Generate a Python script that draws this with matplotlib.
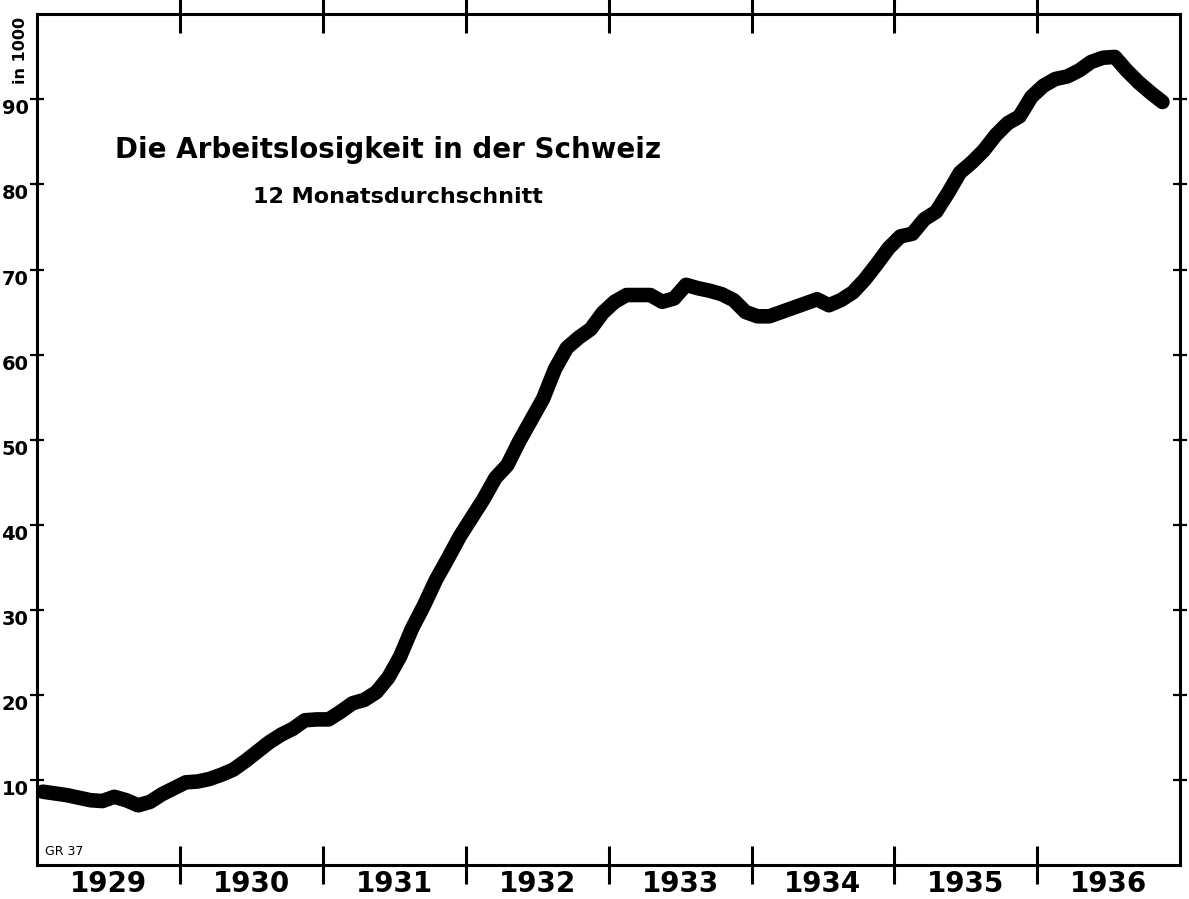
import numpy as np
import matplotlib
matplotlib.use("Agg")
import matplotlib.pyplot as plt

# 12-month average of unemployed (in 1000), monthly from Jan 1929
unemployed = [
    8.6, 8.4, 8.2, 7.9, 7.6, 7.5, 8.0, 7.6, 7.0, 7.4, 8.3, 9.0,
    9.7, 9.8, 10.1, 10.6, 11.2, 12.2, 13.3, 14.4, 15.3, 16.0, 17.0, 17.1,
    17.1, 18.0, 19.0, 19.4, 20.3, 22.0, 24.5, 27.8, 30.5, 33.5, 36.0, 38.6,
    40.8, 43.0, 45.5, 47.0, 49.8, 52.3, 54.8, 58.3, 60.8, 62.0, 63.0, 64.9,
    66.2, 67.0, 67.0, 67.0, 66.2, 66.6, 68.2, 67.8, 67.5, 67.1, 66.4, 65.0,
    64.5, 64.5, 65.0, 65.5, 66.0, 66.5, 65.8, 66.4, 67.3, 68.8, 70.6, 72.5,
    73.9, 74.2, 75.9, 76.8, 79.0, 81.4, 82.6, 84.0, 85.8, 87.2, 88.0, 90.3,
    91.6, 92.4, 92.7, 93.4, 94.4, 94.9, 95.0, 93.4, 92.0, 90.8, 89.7,
]
years = [1929, 1930, 1931, 1932, 1933, 1934, 1935, 1936]
y_ticks = [10, 20, 30, 40, 50, 60, 70, 80, 90]

months = np.arange(len(unemployed))
t = 1929 + (months + 0.5) / 12

fig = plt.figure(figsize=(11.89, 8.99), dpi=100)
ax = fig.add_axes([0.031, 0.038, 0.9617, 0.946])

ax.plot(t, unemployed, color="black", lw=10.5, solid_capstyle="round", solid_joinstyle="round")

ax.set_xlim(1929, 1937)
ax.set_ylim(0, 100)

for s in ax.spines.values():
    s.set_linewidth(2.2)

# year boundaries as major ticks, labels at mid-year
ax.set_xticks(np.arange(1930, 1937))
ax.set_xticklabels([])
ax.set_xticks([y + 0.5 for y in years], minor=True)
ax.set_xticklabels([str(y) for y in years], minor=True,
                   fontsize=20, fontweight="bold")
ax.tick_params(axis="x", which="major", direction="inout", length=28, width=2.2,
               top=True)
ax.tick_params(axis="x", which="minor", length=0, pad=4)

ax.set_yticks(y_ticks)
ax.set_yticklabels([str(v) for v in y_ticks], fontsize=14, fontweight="bold",
                   va="top")
ax.tick_params(axis="y", direction="inout", length=10, width=1.6, right=True, pad=1)

ax.text(-0.014, 0.997, "in 1000", transform=ax.transAxes, rotation=90,
        ha="center", va="top", fontsize=11.5, fontweight="bold")

ax.text(0.068, 0.84, "Die Arbeitslosigkeit in der Schweiz", transform=ax.transAxes,
        fontsize=20, fontweight="bold", va="center")
ax.text(0.189, 0.785, "12 Monatsdurchschnitt", transform=ax.transAxes,
        fontsize=16, fontweight="bold", va="center")
ax.text(0.007, 0.012, "GR 37", transform=ax.transAxes, fontsize=9)

fig.savefig("out.png", dpi=100)
